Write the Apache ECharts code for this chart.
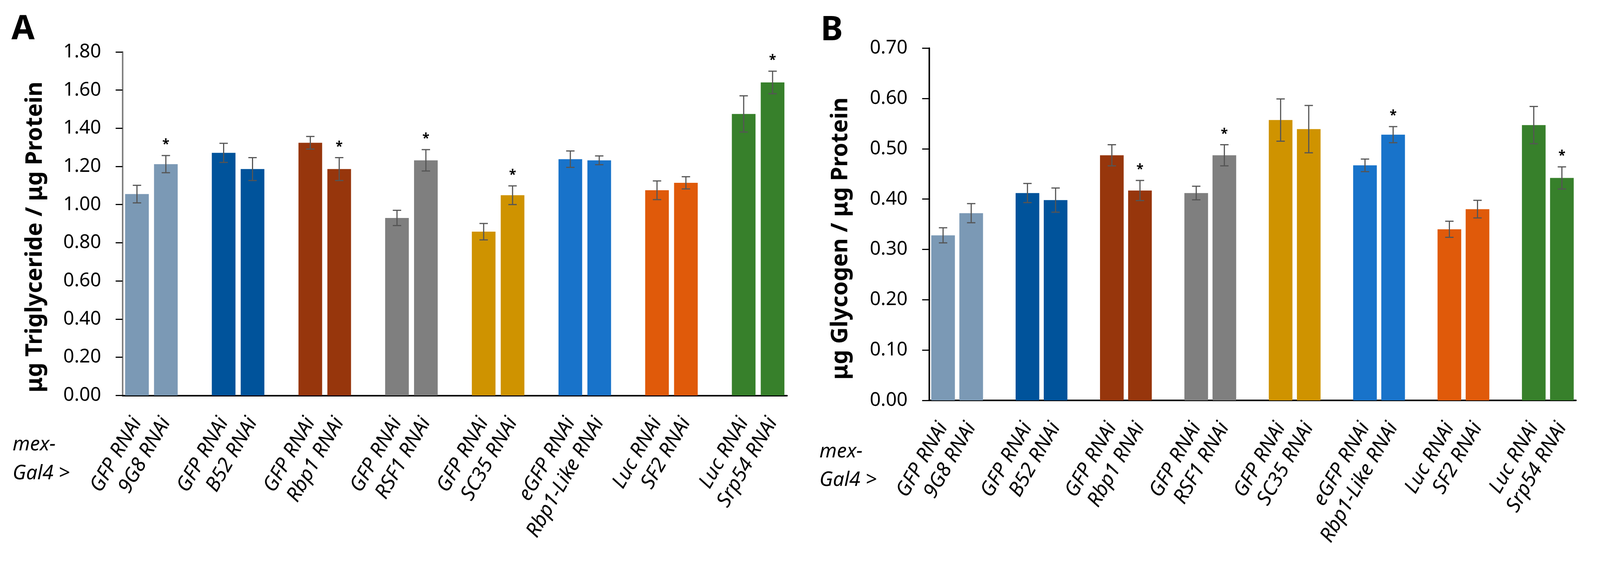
<!DOCTYPE html>
<html>
<head>
<meta charset="utf-8">
<script src="https://cdn.jsdelivr.net/npm/echarts@6/dist/echarts.min.js"></script>
<style>
  html, body { margin: 0; padding: 0; background: #fff; overflow: hidden; }
  #chart { width: 100vw; height: 100vh; }
</style>
</head>
<body>
<div id="chart"></div>
<script>
// slots: two bars per group, one empty slot between groups
var categories = ['GFP RNAi', '9G8 RNAi', '', 'GFP RNAi', 'B52 RNAi', '', 'GFP RNAi', 'Rbp1 RNAi', '',
    'GFP RNAi', 'RSF1 RNAi', '', 'GFP RNAi', 'SC35 RNAi', '', 'eGFP RNAi', 'Rbp1-Like RNAi', '',
    'Luc RNAi', 'SF2 RNAi', '', 'Luc RNAi', 'Srp54 RNAi'];
var groupColors = ['#7B99B5', '#00539B', '#97360C', '#7F7F7F', '#CF9300', '#1873CA', '#E05A0A', '#37802B'];

// panel A: triglyceride
var trigValues = [1.055, 1.212, null, 1.271, 1.186, null, 1.324, 1.186, null, 0.930, 1.232, null,
    0.858, 1.049, null, 1.238, 1.232, null, 1.075, 1.114, null, 1.475, 1.640];
var trigErrors = [0.046, 0.045, null, 0.050, 0.060, null, 0.033, 0.060, null, 0.040, 0.056, null,
    0.043, 0.049, null, 0.043, 0.023, null, 0.049, 0.032, null, 0.095, 0.059];
var trigSig = [0, 1, 0, 0, 0, 0, 0, 1, 0, 0, 1, 0, 0, 1, 0, 0, 0, 0, 0, 0, 0, 0, 1];

// panel B: glycogen
var glycValues = [0.328, 0.372, null, 0.412, 0.398, null, 0.487, 0.417, null, 0.412, 0.487, null,
    0.557, 0.539, null, 0.467, 0.528, null, 0.340, 0.380, null, 0.547, 0.442];
var glycErrors = [0.015, 0.019, null, 0.019, 0.024, null, 0.021, 0.020, null, 0.0135, 0.021, null,
    0.042, 0.047, null, 0.0125, 0.016, null, 0.016, 0.0175, null, 0.037, 0.022];
var glycSig = [0, 0, 0, 0, 0, 0, 0, 1, 0, 0, 1, 0, 0, 0, 0, 0, 1, 0, 0, 0, 0, 0, 1];

var FONT = 'Noto Sans';

// layout is measured on a 4192 px wide page; scale to the real viewport
var k = (window.innerWidth || 4192) / 4192;
function px(v) { return v * k; }
function font(style, size) { return style + ' ' + px(size) + 'px "' + FONT + '"'; }

function barData(values) {
    return values.map(function (v, i) {
        if (v === null) return '-';
        return { value: v, itemStyle: { color: groupColors[Math.floor(i / 3)] } };
    });
}

function errData(values, errors, sig) {
    var out = [];
    values.forEach(function (v, i) {
        if (v !== null) out.push([i, v, errors[i], sig[i]]);
    });
    return out;
}

function renderErr(params, api) {
    var i = api.value(0), v = api.value(1), e = api.value(2), s = api.value(3);
    var top = api.coord([i, v + e]);
    var bot = api.coord([i, v - e]);
    var cw = px(11);
    var style = { stroke: '#555555', lineWidth: px(3) };
    var children = [
        { type: 'line', shape: { x1: top[0], y1: top[1], x2: bot[0], y2: bot[1] }, style: style },
        { type: 'line', shape: { x1: top[0] - cw, y1: top[1], x2: top[0] + cw, y2: top[1] }, style: style },
        { type: 'line', shape: { x1: bot[0] - cw, y1: bot[1], x2: bot[0] + cw, y2: bot[1] }, style: style }
    ];
    if (s) {
        children.push({
            type: 'text',
            style: {
                text: '*', x: top[0], y: top[1] - px(28), fill: '#000',
                font: font('bold', 34), textAlign: 'center', textVerticalAlign: 'middle'
            }
        });
    }
    return { type: 'group', children: children };
}

function xAxisFor(gridIndex) {
    return {
        type: 'category', gridIndex: gridIndex, data: categories,
        axisLine: { lineStyle: { color: '#000', width: px(4) } },
        axisTick: { alignWithLabel: true, length: px(14), lineStyle: { color: '#000', width: px(3) } },
        axisLabel: {
            interval: 0, rotate: 60, margin: px(62),
            fontFamily: FONT, fontStyle: 'italic', fontSize: px(53), color: '#000'
        }
    };
}

function yAxisFor(gridIndex, max, interval, lineColor) {
    return {
        type: 'value', gridIndex: gridIndex, min: 0, max: max, interval: interval,
        splitLine: { show: false },
        axisLine: { show: true, lineStyle: { color: lineColor, width: px(4) } },
        axisTick: { show: true, length: px(18), lineStyle: { color: '#000', width: px(3) } },
        axisLabel: {
            margin: px(56), fontFamily: FONT, fontSize: px(50), color: '#000',
            formatter: function (val) { return val.toFixed(2); }
        }
    };
}

var myChart = echarts.init(document.getElementById('chart'));

var option = {
    backgroundColor: '#fff',
    animation: false,
    grid: [
        { left: px(321), top: px(136), width: px(1741), height: px(900), outerBoundsMode: 'none' },
        { left: px(2434), top: px(126), width: px(1695), height: px(923), outerBoundsMode: 'none' }
    ],
    xAxis: [xAxisFor(0), xAxisFor(1)],
    yAxis: [yAxisFor(0, 1.8, 0.2, '#7F7F7F'), yAxisFor(1, 0.7, 0.1, '#000')],
    series: [
        { type: 'bar', xAxisIndex: 0, yAxisIndex: 0, barWidth: px(62), data: barData(trigValues) },
        { type: 'custom', xAxisIndex: 0, yAxisIndex: 0, renderItem: renderErr, z: 5,
          data: errData(trigValues, trigErrors, trigSig) },
        { type: 'bar', xAxisIndex: 1, yAxisIndex: 1, barWidth: px(62), data: barData(glycValues) },
        { type: 'custom', xAxisIndex: 1, yAxisIndex: 1, renderItem: renderErr, z: 5,
          data: errData(glycValues, glycErrors, glycSig) }
    ],
    graphic: [
        { type: 'text', left: px(30), top: px(34),
          style: { text: 'A', font: font('bold', 88), fill: '#000' } },
        { type: 'text', left: px(2150), top: px(36),
          style: { text: 'B', font: font('bold', 88), fill: '#000' } },
        { type: 'text', x: px(92), y: px(621), rotation: Math.PI / 2,
          style: { text: 'μg Triglyceride / μg Protein', font: font('bold', 60), fill: '#000',
                   textAlign: 'center', textVerticalAlign: 'middle' } },
        { type: 'text', x: px(2203), y: px(625), rotation: Math.PI / 2,
          style: { text: 'μg Glycogen / μg Protein', font: font('bold', 60), fill: '#000',
                   textAlign: 'center', textVerticalAlign: 'middle' } },
        { type: 'text', left: px(33), top: px(1128),
          style: { text: 'mex-\nGal4 >', font: font('italic', 52), lineHeight: px(75), fill: '#000' } },
        { type: 'text', left: px(2147), top: px(1146),
          style: { text: 'mex-\nGal4 >', font: font('italic', 52), lineHeight: px(75), fill: '#000' } }
    ]
};

myChart.setOption(option);
</script>
</body>
</html>
